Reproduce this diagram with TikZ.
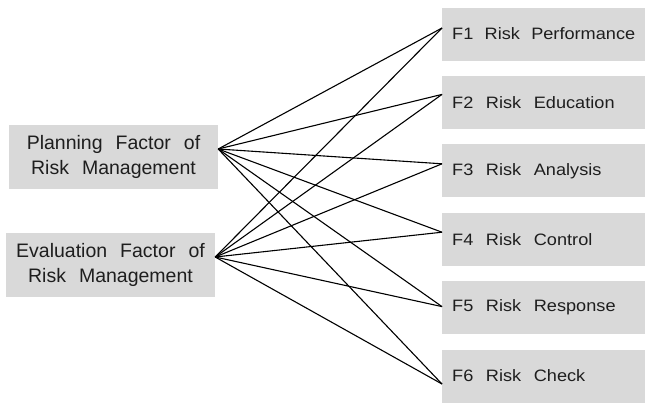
\documentclass[tikz,border=0pt]{standalone}
\usepackage{fontspec}
\setmainfont{Liberation Sans}[WordSpace=2.4]
\newfontfamily\factorfont{Liberation Sans}[FakeStretch=1.1,WordSpace=2.5]
\usetikzlibrary{positioning}
\definecolor{BoxGray}{HTML}{D9D9D9}
\definecolor{TextGray}{HTML}{1E1E1E}

\begin{document}
\begin{tikzpicture}[
  x=1pt, y=-1pt,
  node distance=15pt,
  cause/.style={fill=BoxGray,minimum width=209pt,minimum height=64pt,inner sep=0pt,align=center,text=TextGray,font=\fontsize{19.5}{25}\selectfont},
  factor/.style={fill=BoxGray,minimum width=203pt,minimum height=53pt,text width=183pt,inner xsep=10pt,inner ysep=0pt,align=left,text=TextGray,font=\factorfont\fontsize{16.5}{20}\selectfont,execute at begin node={\spaceskip=0pt\xspaceskip=0pt\relax}},
  link/.style={line width=1.1pt}
]
  \useasboundingbox (0,0) rectangle (645,405);

  \node[cause] (plan) at (113.5,157) {Planning Factor of\\Risk Management};
  \node[cause] (eval) at (110.5,265) {Evaluation Factor of\\Risk Management};

  \node[factor, anchor=west] (f1) at (442,34) {F1 Risk Performance};
  \node[factor, below=of f1] (f2) {F2 Risk Education};
  \node[factor, below=of f2] (f3) {F3 Risk Analysis};
  \node[factor, below=of f3] (f4) {F4 Risk Control};
  \node[factor, below=of f4] (f5) {F5 Risk Response};
  \node[factor, below=of f5] (f6) {F6 Risk Check};

  % every cause goes to every factor
  \foreach \f/\s in {f1/6,f2/8,f3/7,f4/7,f5/1,f6/-8} {
    \draw[link] ([yshift=8pt]plan.east) -- ([yshift=\s pt]\f.west);
    \draw[link] ([yshift=8pt]eval.east) -- ([yshift=\s pt]\f.west);
  }
\end{tikzpicture}
\end{document}
